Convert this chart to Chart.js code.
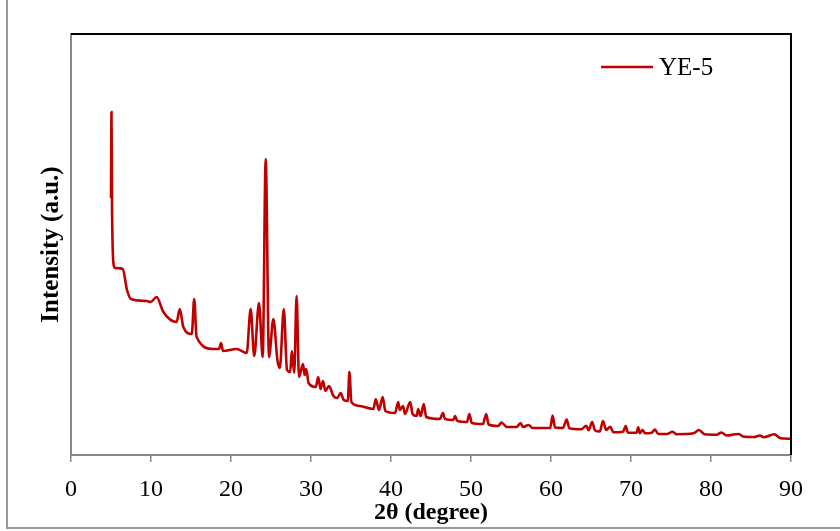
<!DOCTYPE html>
<html>
<head>
<meta charset="utf-8">
<script src="https://cdn.jsdelivr.net/npm/chart.js@4/dist/chart.umd.min.js"></script>
<style>
  body { margin: 0; background: #fff; }
  #xrd { display: block; }
</style>
</head>
<body>
<canvas id="xrd" width="840" height="531"></canvas>
<script>
// 2-theta positions (degree)
const twoTheta = [
  5.0, 5.06, 5.12, 5.3, 5.5, 6.46, 7.0, 7.5, 9.46, 9.96,
  10.7, 11.54, 13.2, 13.6, 14.04, 15.1, 15.4, 15.7, 17.8, 18.5,
  18.75, 19.0, 20.7, 21.96, 22.46, 22.9, 23.5, 23.96, 24.34, 24.75,
  25.3, 25.8, 26.1, 26.6, 27.0, 27.4, 27.6, 27.9, 28.2, 28.5,
  29.0, 29.2, 29.4, 29.7, 30.6, 30.9, 31.2, 31.5, 31.8, 32.25,
  32.8, 33.3, 33.7, 34.1, 34.6, 34.8, 35.05, 36.1, 37.8, 38.1,
  38.5, 38.96, 39.3, 40.5, 40.9, 41.1, 41.5, 41.75, 42.4, 42.7,
  43.2, 43.4, 43.7, 44.1, 44.4, 46.1, 46.5, 46.75, 47.8, 48.0,
  48.3, 49.5, 49.8, 50.1, 51.5, 51.9, 52.2, 53.4, 53.8, 54.5,
  55.7, 56.2, 56.5, 57.2, 57.7, 59.9, 60.2, 60.5, 61.5, 61.96,
  62.3, 63.8, 64.4, 64.7, 65.15, 65.5, 66.1, 66.5, 66.9, 67.4,
  67.8, 69.0, 69.35, 69.6, 70.7, 70.9, 71.1, 71.45, 71.75, 72.6,
  73.0, 73.4, 74.5, 75.2, 75.7, 77.8, 78.5, 79.2, 80.7, 81.3,
  81.96, 83.0, 83.5, 84.0, 85.4, 86.1, 86.6, 87.9, 88.7, 89.9
];

// intensity (arbitrary units)
const intensity = [
  257, 343, 255, 192, 187, 186, 165, 156, 154, 153,
  158, 143, 133, 146, 128, 121, 156, 118, 106, 106,
  112, 104, 106, 102, 146, 99, 152, 98, 296, 98,
  136, 95, 87, 146, 85, 83, 104, 82, 159, 78,
  91, 80, 86, 72, 68, 78, 66, 74, 64, 69,
  59, 57, 62, 55, 54, 83, 53, 49, 46, 56,
  45, 58, 44, 42, 53, 45, 49, 41, 53, 41,
  39, 46, 39, 51, 38, 36, 42, 36, 35, 39,
  34, 33, 41, 32, 31, 41, 30.5, 29, 32.5, 28,
  28, 32, 28, 30, 27, 27, 39.5, 27.5, 27, 35.5,
  26.7, 25.7, 29.3, 24.7, 33, 24.5, 23.5, 34, 25, 28.3,
  22.7, 23.3, 29, 22.3, 22.3, 27.7, 21.7, 25, 21.7, 22.3,
  25.5, 21, 21, 23.3, 20.8, 21.7, 25, 20.7, 20.3, 22.5,
  19.5, 20.7, 21, 18.5, 18, 19.5, 17.7, 20.8, 16.7, 16.2
];

const seriesName = 'YE-5';
const xTicks = [0, 10, 20, 30, 40, 50, 60, 70, 80, 90];

const points = twoTheta.map((t, i) => ({ x: t, y: intensity[i] }));

// outer frame, plot box top/right edges and the legend
const framePlugin = {
  id: 'frame',
  beforeDraw(chart) {
    const ctx = chart.ctx;
    ctx.save();
    ctx.fillStyle = '#fff';
    ctx.fillRect(0, 0, chart.width, chart.height);
    ctx.strokeStyle = '#999';
    ctx.lineWidth = 2;
    ctx.beginPath();
    ctx.moveTo(7, 0);
    ctx.lineTo(7, 528);
    ctx.lineTo(chart.width, 528);
    ctx.stroke();
    ctx.restore();
  },
  afterDraw(chart) {
    const ctx = chart.ctx;
    const a = chart.chartArea;
    ctx.save();
    ctx.strokeStyle = '#000';
    ctx.lineWidth = 2;
    ctx.beginPath();
    ctx.moveTo(a.left, a.top);
    ctx.lineTo(a.right, a.top);
    ctx.lineTo(a.right, a.bottom);
    ctx.stroke();

    const ds = chart.data.datasets[0];
    ctx.strokeStyle = ds.borderColor;
    ctx.lineWidth = 2.5;
    ctx.beginPath();
    ctx.moveTo(601, 67);
    ctx.lineTo(653, 67);
    ctx.stroke();
    ctx.fillStyle = '#000';
    ctx.font = '25px "Liberation Serif"';
    ctx.textBaseline = 'middle';
    ctx.fillText(ds.label, 659, 68);
    ctx.restore();
  }
};

new Chart(document.getElementById('xrd'), {
  type: 'line',
  data: {
    datasets: [{
      label: seriesName,
      data: points,
      borderColor: '#c00000',
      borderWidth: 2.6,
      pointRadius: 0,
      cubicInterpolationMode: 'monotone',
      fill: false
    }]
  },
  options: {
    responsive: false,
    animation: false,
    layout: { padding: { top: 34, right: 49, left: 0, bottom: 0 } },
    plugins: {
      legend: { display: false },
      tooltip: { enabled: false }
    },
    scales: {
      x: {
        type: 'linear',
        min: 0,
        max: 90,
        afterBuildTicks(scale) {
          scale.ticks = xTicks.map(v => ({ value: v }));
        },
        afterFit(scale) { scale.height = 76; },
        ticks: {
          color: '#000',
          padding: 13,
          font: { family: 'Liberation Serif', size: 24 }
        },
        grid: {
          display: true,
          drawOnChartArea: false,
          drawTicks: true,
          tickLength: 7,
          color: '#888',
          lineWidth: 1.5
        },
        border: { display: true, color: '#888', width: 2 },
        title: {
          display: true,
          text: '2θ (degree)',
          color: '#000',
          padding: { top: 0, bottom: 4 },
          font: { family: 'Liberation Serif', size: 24, weight: 'bold' }
        }
      },
      y: {
        min: 0,
        max: 421,
        afterFit(scale) { scale.width = 71; },
        ticks: { display: false },
        grid: { display: false, drawTicks: false },
        border: { display: true, color: '#888', width: 2 },
        title: {
          display: true,
          text: 'Intensity (a.u.)',
          color: '#000',
          padding: { top: 37, bottom: 0 },
          font: { family: 'Liberation Serif', size: 25, weight: 'bold' }
        }
      }
    }
  },
  plugins: [framePlugin]
});
</script>
</body>
</html>
